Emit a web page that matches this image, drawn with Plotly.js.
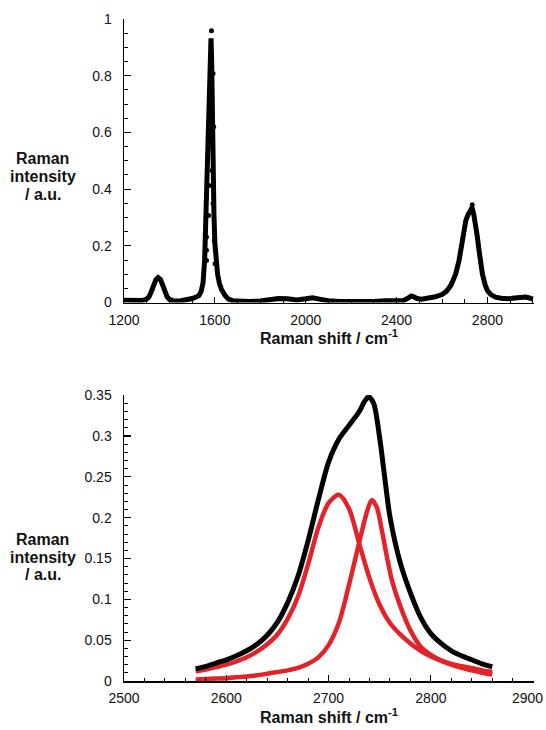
<!DOCTYPE html>
<html>
<head>
<meta charset="utf-8">
<script src="https://cdn.plot.ly/plotly-3.0.1.min.js"></script>
<style>html,body{margin:0;padding:0;background:#fff;}#chart{width:546px;height:730px;}</style>
</head>
<body>
<div id="chart"></div>
<script>
// ---- Top panel: full Raman spectrum (smoothed line) ----
const specX = [1200,1220,1250,1280,1300,1310,1320,1330,1340,1350,
               1360,1370,1380,1390,1400,1420,1450,1480,1500,1520,
               1530,1540,1548,1555,1560,1565,1570,1575,1580,1583,
               1586,1589,1592,1596,1600,1606,1612,1620,1630,1645,
               1660,1680,1700,1750,1800,1850,1880,1920,1960,2000,
               2030,2060,2100,2150,2200,2250,2300,2350,2400,2430,
               2445,2455,2465,2475,2490,2510,2540,2570,2600,2620,
               2640,2660,2675,2690,2705,2715,2725,2732,2740,2748,
               2755,2763,2770,2778,2790,2800,2815,2836,2860,2895,
               2920,2940,2968,2985,3000];
const specY = [0.008,0.008,0.008,0.007,0.012,0.020,0.038,0.060,0.080,0.088,
               0.082,0.062,0.038,0.020,0.011,0.005,0.006,0.010,0.014,0.020,
               0.025,0.040,0.070,0.150,0.280,0.430,0.620,0.800,0.920,0.932,
               0.850,0.620,0.450,0.310,0.210,0.150,0.100,0.068,0.045,0.025,
               0.012,0.006,0.005,0.004,0.005,0.010,0.014,0.013,0.009,0.013,
               0.017,0.012,0.006,0.004,0.003,0.002,0.004,0.006,0.005,0.007,
               0.013,0.020,0.023,0.020,0.014,0.012,0.015,0.020,0.028,0.040,
               0.062,0.100,0.148,0.220,0.290,0.310,0.325,0.335,0.310,0.278,
               0.235,0.184,0.140,0.100,0.062,0.042,0.028,0.019,0.015,0.013,
               0.016,0.019,0.019,0.016,0.012];
// individual measured points visible beside the line
const ptsX = [1585,1592,1595,1577.5,1588,1574.5,1592,1572,1563,1598,1563,1563,1601,2733];
const ptsY = [0.959,0.808,0.620,0.561,0.466,0.413,0.349,0.307,0.231,0.219,0.184,0.148,0.137,0.345];

// ---- Bottom panel: 2D band and its two-component fit ----
const sumX = [2570,2580,2590,2600,2610,2620,2630,2640,2650,2660,
              2670,2680,2690,2700,2710,2720,2730,2735,2739,2744,
              2750,2755,2760,2770,2780,2790,2800,2810,2820,2830,
              2840,2850,2860];
const sumY = [0.015,0.018,0.022,0.026,0.031,0.037,0.045,0.056,0.072,0.096,
              0.128,0.172,0.222,0.268,0.296,0.313,0.330,0.342,0.348,0.340,
              0.297,0.248,0.201,0.145,0.108,0.078,0.058,0.046,0.037,0.031,
              0.026,0.021,0.0175];
const comp1X = [2570,2580,2590,2600,2610,2620,2630,2640,2650,2660,
                2670,2680,2690,2700,2710,2720,2730,2740,2750,2760,
                2770,2780,2790,2800,2810,2820,2830,2840,2850,2860];
const comp1Y = [0.012,0.014,0.017,0.020,0.024,0.029,0.036,0.045,0.057,0.076,
                0.103,0.143,0.188,0.218,0.228,0.211,0.168,0.126,0.093,0.071,
                0.057,0.046,0.037,0.030,0.025,0.021,0.018,0.016,0.013,0.011];
const comp2X = [2570,2580,2590,2600,2610,2620,2630,2640,2650,2660,
                2670,2680,2690,2700,2710,2720,2730,2737,2742,2747,
                2752,2757,2762,2770,2780,2790,2800,2810,2820,2830,
                2840,2850,2860];
const comp2Y = [0.002,0.0025,0.003,0.0035,0.0045,0.0055,0.007,0.009,0.011,0.013,
                0.016,0.021,0.029,0.044,0.071,0.118,0.170,0.205,0.2215,0.213,
                0.185,0.152,0.123,0.092,0.062,0.042,0.032,0.025,0.020,0.016,
                0.013,0.010,0.008];
// bottom x-axis tick values / labels (last label placed so it stays inside the page)
const bottomTickVals = [2500,2600,2700,2800,2900];
const bottomTickText = ['2500','2600','2700','2800',''];
const lastBottomLabel = '2900';

const FONT = 'Liberation Sans, Arial, sans-serif';
const RED = '#e3232a';

const traces = [
  {x: specX, y: specY, xaxis:'x', yaxis:'y', mode:'lines',
   line:{color:'#000', width:5, shape:'linear'}, hoverinfo:'skip'},
  {x: ptsX, y: ptsY, xaxis:'x', yaxis:'y', mode:'markers',
   marker:{color:'#000', size:5}, hoverinfo:'skip'},
  {x: comp1X, y: comp1Y, xaxis:'x2', yaxis:'y2', mode:'lines',
   line:{color:RED, width:4.5, shape:'spline', smoothing:0.8}},
  {x: comp2X, y: comp2Y, xaxis:'x2', yaxis:'y2', mode:'lines',
   line:{color:RED, width:4.5, shape:'spline', smoothing:0.8}},
  {x: sumX, y: sumY, xaxis:'x2', yaxis:'y2', mode:'lines',
   line:{color:'#000', width:5, shape:'spline', smoothing:0.8}}
];

const L = 124/546, R = 534/546;
function ax(extra){
  return Object.assign({
    showline:true, linecolor:'#000', linewidth:1.5, mirror:false,
    showgrid:false, zeroline:false,
    ticks:'inside', tickcolor:'#000', tickwidth:1.2,
    tickfont:{family:FONT, size:14, color:'#111'}
  }, extra);
}

const layout = {
  width:546, height:730,
  margin:{l:0, r:0, t:0, b:0},
  paper_bgcolor:'#fff', plot_bgcolor:'#fff',
  showlegend:false,
  xaxis: ax({domain:[L,R], anchor:'y', range:[1200,3005], tick0:1200, dtick:400, ticklen:6,
    ticklabelstandoff:4,
    minor:{ticks:'inside', tick0:1200, dtick:100, ticklen:3.5, tickcolor:'#000', tickwidth:1}}),
  yaxis: ax({domain:[0.5856,0.974], anchor:'x', range:[0,1.0005], tick0:0, dtick:0.2, ticklen:7,
    ticklabelstandoff:8,
    minor:{ticks:'inside', tick0:0, dtick:0.05, ticklen:4, tickcolor:'#000', tickwidth:1}}),
  xaxis2: ax({domain:[L,R], anchor:'y2', range:[2500,2900.8], tickmode:'array',
    tickvals:bottomTickVals, ticktext:bottomTickText, ticklen:6,
    ticklabelstandoff:4,
    minor:{ticks:'inside', tick0:2500, dtick:20, ticklen:3.5, tickcolor:'#000', tickwidth:1}}),
  yaxis2: ax({domain:[0.0671,0.4589], anchor:'x2', range:[0,0.3502], tick0:0, dtick:0.05, ticklen:7,
    ticklabelstandoff:8,
    minor:{ticks:'inside', tick0:0, dtick:0.01, ticklen:4, tickcolor:'#000', tickwidth:1}}),
  annotations: []
};

function label(text, xpx, ypx){
  return {text:text, xref:'paper', yref:'paper', x:xpx/546, y:1-ypx/730,
    xanchor:'center', yanchor:'middle', showarrow:false,
    font:{family:FONT, size:16, color:'#111'}};
}
layout.annotations.push(
  label('<b>Raman</b>', 42.5, 159),
  label('<b>intensity</b>', 42.5, 176.5),
  label('<b>/ a.u.</b>', 42.5, 194),
  label('<b>Raman shift / cm<sup>-1</sup></b>', 329, 337),
  label('<b>Raman</b>', 42.5, 539.5),
  label('<b>intensity</b>', 42.5, 557),
  label('<b>/ a.u.</b>', 42.5, 574),
  label('<b>Raman shift / cm<sup>-1</sup></b>', 329, 716),
  {text:lastBottomLabel, xref:'paper', yref:'paper', x:545/546, y:1-698/730,
   xanchor:'right', yanchor:'middle', showarrow:false,
   font:{family:FONT, size:14, color:'#111'}}
);

Plotly.newPlot('chart', traces, layout, {staticPlot:true, displayModeBar:false});
</script>
</body>
</html>
